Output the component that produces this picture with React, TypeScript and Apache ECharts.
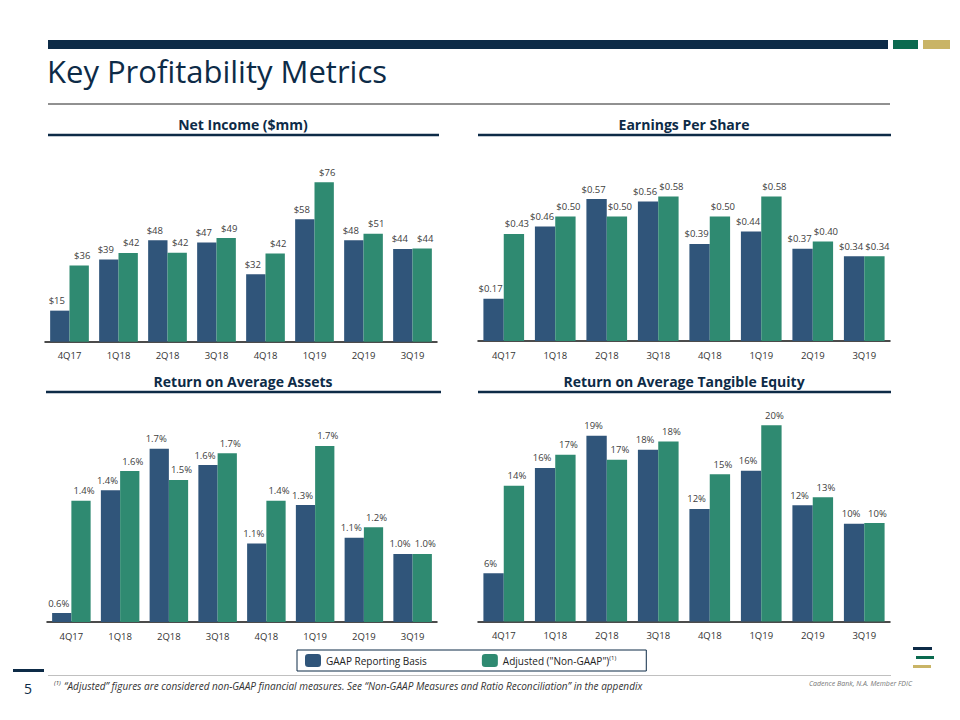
import React, { useEffect, useRef } from "react";
import * as echarts from "echarts";

const quarters = ["4Q17", "1Q18", "2Q18", "3Q18", "4Q18", "1Q19", "2Q19", "3Q19"];

// Net Income ($mm)
const netIncomeGaap = [14.8, 39.2, 48.4, 47.3, 32.1, 58.4, 48.4, 44.2];
const netIncomeAdj = [36.3, 42.3, 42.4, 49.4, 42.0, 76.0, 51.4, 44.4];

// Earnings per share ($)
const epsGaap = [0.17, 0.46, 0.57, 0.56, 0.39, 0.44, 0.37, 0.34];
const epsAdj = [0.43, 0.5, 0.5, 0.58, 0.5, 0.58, 0.4, 0.34];

// Return on average assets (%)
const roaGaap = [0.6, 1.43, 1.71, 1.6, 1.07, 1.33, 1.11, 1.0];
const roaAdj = [1.36, 1.56, 1.5, 1.68, 1.36, 1.73, 1.18, 1.0];

// Return on average tangible equity (%)
const roateGaap = [5.52, 15.86, 19.0, 17.63, 11.84, 15.57, 12.19, 10.39];
const roateAdj = [14.1, 17.14, 16.65, 18.44, 15.24, 20.04, 12.98, 10.45];

const GAAP_NAME = "GAAP Reporting Basis";
const ADJ_NAME = "Adjusted (\"Non-GAAP\")";
const GAAP_COLOR = "#30557a";
const ADJ_COLOR = "#2f8a71";
const NAVY = "#0d2b47";
const FONT = "Open Sans";

export default function App() {
  const ref = useRef<HTMLDivElement>(null);

  useEffect(() => {
    if (!ref.current) return;
    const chart = echarts.init(ref.current, undefined, { renderer: "svg" });

    const grids = [
      { left: 45, top: 341.7 - 80 * 2.098, width: 392, height: 80 * 2.098 },
      { left: 478, top: 341 - 0.6 * 249, width: 412, height: 0.6 * 249 },
      { left: 47, top: 622 - (1.8 - 0.54) * 148, width: 390, height: (1.8 - 0.54) * 148 },
      { left: 478, top: 621.5 - (21 - 0.8) * 10.2, width: 412, height: (21 - 0.8) * 10.2 },
    ];
    const yRanges = [
      [0, 80],
      [0, 0.6],
      [0.54, 1.8],
      [0.8, 21],
    ];
    const formatters = [
      (v: number) => "$" + Math.round(v),
      (v: number) => "$" + v.toFixed(2),
      (v: number) => v.toFixed(1) + "%",
      (v: number) => Math.round(v) + "%",
    ];
    const gaapSets = [netIncomeGaap, epsGaap, roaGaap, roateGaap];
    const adjSets = [netIncomeAdj, epsAdj, roaAdj, roateAdj];

    const xAxis = grids.map((_, i) => ({
      type: "category",
      gridIndex: i,
      data: quarters,
      axisLine: { lineStyle: { color: "#111", width: 1.5 } },
      axisTick: { show: false },
      axisLabel: { color: "#333", fontSize: 9.5, fontFamily: FONT, margin: 9 },
    }));
    const yAxis = grids.map((_, i) => ({
      type: "value",
      gridIndex: i,
      min: yRanges[i][0],
      max: yRanges[i][1],
      show: false,
      splitLine: { show: false },
    }));

    const series: any[] = [];
    grids.forEach((_, i) => {
      [
        { name: GAAP_NAME, data: gaapSets[i], color: GAAP_COLOR, dx: -3 },
        { name: ADJ_NAME, data: adjSets[i], color: ADJ_COLOR, dx: 3 },
      ].forEach((s) => {
        series.push({
          type: "bar",
          name: s.name,
          xAxisIndex: i,
          yAxisIndex: i,
          data: s.data,
          barGap: "0%",
          barCategoryGap: "21%",
          itemStyle: { color: s.color },
          label: {
            show: true,
            position: "top",
            distance: 5,
            offset: [s.dx, 0],
            color: "#404040",
            fontSize: 9.5,
            fontFamily: FONT,
            formatter: (p: any) => formatters[i](p.value),
          },
        });
      });
    });

    const sectionTitle = (text: string, x: number, y: number) => ({
      type: "text",
      x,
      y,
      style: {
        text,
        fill: NAVY,
        font: `bold 14px "${FONT}"`,
        textAlign: "center",
        textVerticalAlign: "middle",
      },
    });
    const rule = (x1: number, x2: number, y: number, w: number, color: string) => ({
      type: "line",
      shape: { x1, y1: y, x2, y2: y },
      style: { stroke: color, lineWidth: w },
    });

    chart.setOption({
      animation: false,
      backgroundColor: "#ffffff",
      legend: {
        left: 297,
        top: 650,
        orient: "horizontal",
        padding: [4, 30, 4, 8],
        itemWidth: 16,
        itemHeight: 13,
        itemGap: 55,
        borderColor: NAVY,
        borderWidth: 1,
        data: [GAAP_NAME, ADJ_NAME],
        selectedMode: false,
        formatter: (name: string) => (name === ADJ_NAME ? `{t|${name}}{s|(1)}` : `{t|${name}}`),
        textStyle: {
          color: "#222",
          fontFamily: FONT,
          fontSize: 10,
          rich: {
            t: { fontSize: 10, fontFamily: FONT, color: "#222" },
            s: { fontSize: 6, fontFamily: FONT, color: "#222", verticalAlign: "top", padding: [0, 0, 6, 0] },
          },
        },
      },
      grid: grids.map((g) => ({ ...g, containLabel: false })),
      xAxis,
      yAxis,
      series,
      graphic: [
        { type: "rect", shape: { x: 48, y: 40, width: 840, height: 9 }, style: { fill: NAVY } },
        { type: "rect", shape: { x: 893, y: 40, width: 25, height: 9 }, style: { fill: "#0b6a4f" } },
        { type: "rect", shape: { x: 923, y: 40, width: 27, height: 9 }, style: { fill: "#c9b466" } },
        {
          type: "text",
          x: 47,
          y: 55,
          style: { text: "Key Profitability Metrics", fill: NAVY, font: `normal 31px "${FONT}"` },
        },
        rule(48, 890, 104, 1, "#222"),
        sectionTitle("Net Income ($mm)", 243, 124),
        sectionTitle("Earnings Per Share", 684, 124),
        sectionTitle("Return on Average Assets", 243, 381),
        sectionTitle("Return on Average Tangible Equity", 684, 381),
        rule(48, 439, 135, 2.5, NAVY),
        rule(478, 891, 135, 2.5, NAVY),
        rule(46, 441, 392, 2.5, NAVY),
        rule(478, 891, 392, 2.5, NAVY),
        // footer
        { type: "rect", shape: { x: 13, y: 669, width: 31, height: 3 }, style: { fill: NAVY } },
        {
          type: "text",
          x: 28,
          y: 688,
          style: { text: "5", fill: NAVY, font: `normal 14px "${FONT}"`, textAlign: "center", textVerticalAlign: "middle" },
        },
        rule(48, 891, 675.5, 1, "#c0c0c0"),
        {
          type: "text",
          x: 54,
          y: 680,
          style: {
            text: "{s|(1)} {t|\u201cAdjusted\u201d figures are considered non-GAAP financial measures. See \u201cNon-GAAP Measures and Ratio Reconciliation\u201d in the appendix}",
            rich: {
              s: { fontSize: 6, fontFamily: FONT, fontStyle: "italic", fill: "#333", verticalAlign: "top" },
              t: { fontSize: 10, fontFamily: FONT, fontStyle: "italic", fill: "#333" },
            },
          },
        },
        {
          type: "text",
          x: 912,
          y: 683,
          style: {
            text: "Cadence Bank, N.A. Member FDIC",
            fill: "#777",
            font: `italic 7px "${FONT}"`,
            textAlign: "right",
            textVerticalAlign: "middle",
          },
        },
        { type: "rect", shape: { x: 913, y: 647, width: 19, height: 3 }, style: { fill: NAVY } },
        { type: "rect", shape: { x: 916, y: 656, width: 18, height: 3 }, style: { fill: "#0b6a4f" } },
        { type: "rect", shape: { x: 913, y: 665, width: 18, height: 3 }, style: { fill: "#c9b466" } },
      ],
    });

    return () => chart.dispose();
  }, []);

  return (
    <div
      ref={ref}
      style={{ position: "absolute", left: 0, top: 0, width: 960, height: 720, background: "#fff" }}
    />
  );
}
